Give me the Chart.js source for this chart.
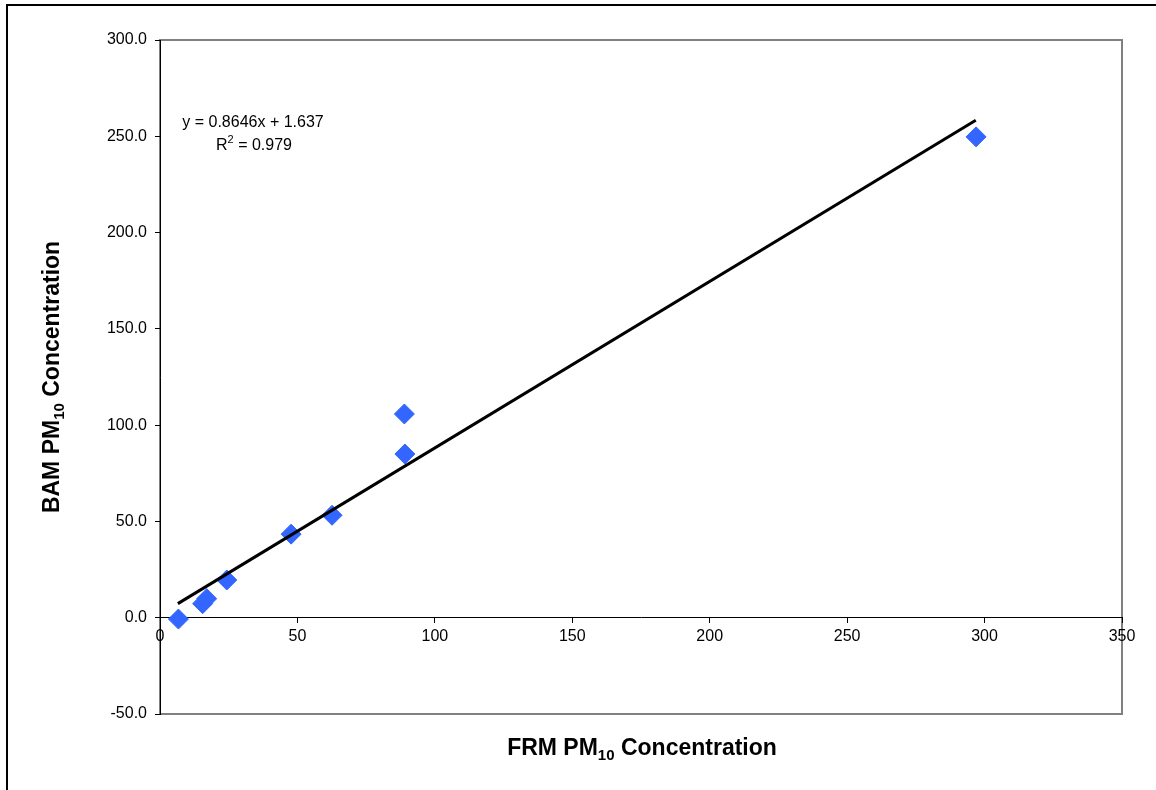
<!DOCTYPE html>
<html><head><meta charset="utf-8">
<script src="https://cdn.jsdelivr.net/npm/chart.js@4/dist/chart.umd.min.js"></script>
<style>html,body{margin:0;padding:0;background:#fff}#wrap{width:1156px;height:790px;position:relative}</style>
</head><body><div id="wrap"><canvas id="c" width="1156" height="790"></canvas></div>
<script>
// ---- data ----
const frmX = [6.7, 15.5, 17.0, 24.3, 47.7, 62.6, 88.9, 89.1, 296.9];
const bamY = [-0.7, 7.3, 9.9, 19.6, 43.4, 53.2, 105.8, 85.0, 249.7];
const trendX = [6.5, 296.8];
const trendY = [7.3, 258.3];
const xTickValues = [0, 50, 100, 150, 200, 250, 300, 350];
const yTickValues = [-50, 0, 50, 100, 150, 200, 250, 300];
const equationText = 'y = 0.8646x + 1.637';
const r2Parts = ['R', '2', ' = 0.979'];
const xTitleParts = ['FRM PM', '10', ' Concentration'];
const yTitleParts = ['BAM PM', '10', ' Concentration'];

const FONT = '"Liberation Sans", Arial, sans-serif';

function drawRich(ctx, parts, cx, baseY, size, bold, shift, spacing) {
  const w = bold ? 'bold ' : '';
  const small = Math.round(size * 0.66);
  ctx.letterSpacing = (spacing || 0) + 'px';
  ctx.font = w + size + 'px ' + FONT;
  const w0 = ctx.measureText(parts[0]).width;
  const w2 = ctx.measureText(parts[2]).width;
  ctx.font = w + small + 'px ' + FONT;
  const w1 = ctx.measureText(parts[1]).width;
  let x = cx - (w0 + w1 + w2) / 2;
  ctx.textAlign = 'left';
  ctx.textBaseline = 'alphabetic';
  ctx.font = w + size + 'px ' + FONT;
  ctx.fillText(parts[0], x, baseY); x += w0;
  ctx.font = w + small + 'px ' + FONT;
  ctx.fillText(parts[1], x, baseY + shift); x += w1;
  ctx.font = w + size + 'px ' + FONT;
  ctx.fillText(parts[2], x, baseY);
  ctx.letterSpacing = '0px';
}

const decor = {
  id: 'decor',
  beforeDraw(chart) {
    const {ctx, chartArea: a} = chart;
    ctx.save();
    ctx.strokeStyle = '#808080';
    ctx.lineWidth = 2;
    ctx.strokeRect(a.left, a.top, a.right - a.left, a.bottom - a.top);
    ctx.restore();
  },
  afterDraw(chart) {
    const {ctx, chartArea: a} = chart;
    ctx.save();
    // outer chart border
    ctx.strokeStyle = '#000';
    ctx.lineWidth = 2;
    ctx.beginPath();
    ctx.moveTo(7, 800); ctx.lineTo(7, 5); ctx.lineTo(1200, 5);
    ctx.stroke();
    ctx.fillStyle = '#000';
    // trendline label
    ctx.font = '16px ' + FONT;
    ctx.textAlign = 'center';
    ctx.textBaseline = 'alphabetic';
    ctx.fillText(equationText, 253, 127);
    drawRich(ctx, r2Parts, 254, 150, 16, false, -7, 0);
    // axis titles
    const cx = (a.left + a.right) / 2, cy = (a.top + a.bottom) / 2;
    drawRich(ctx, xTitleParts, cx + 1, 755, 23, true, 5, 0);
    ctx.translate(59, cy);
    ctx.rotate(-Math.PI / 2);
    drawRich(ctx, yTitleParts, 0, 0, 23, true, 5, 0);
    ctx.restore();
  }
};

new Chart(document.getElementById('c'), {
  type: 'scatter',
  data: {
    datasets: [
      {
        type: 'line',
        label: 'Linear trend',
        data: trendX.map((x, i) => ({x, y: trendY[i]})),
        borderColor: '#000',
        borderWidth: 3,
        pointRadius: 0,
        fill: false
      },
      {
        label: 'BAM vs FRM',
        data: frmX.map((x, i) => ({x, y: bamY[i]})),
        pointStyle: 'rectRot',
        pointRadius: 10,
        pointBorderWidth: 1,
        backgroundColor: '#3366FF',
        borderColor: '#3366FF'
      }
    ]
  },
  options: {
    responsive: false,
    animation: false,
    events: [],
    layout: {padding: {left: 0, top: 40, right: 34, bottom: 76}},
    plugins: {legend: {display: false}, tooltip: {enabled: false}, title: {display: false}},
    scales: {
      x: {
        type: 'linear',
        position: {y: 0},
        min: 0, max: 350,
        afterBuildTicks: s => { s.ticks = xTickValues.map(v => ({value: v})); },
        ticks: {color: '#000', font: {family: FONT, size: 16}, padding: 4, maxRotation: 0},
        grid: {drawOnChartArea: false, drawTicks: true, tickLength: 5, color: '#000'},
        border: {color: '#000', width: 1}
      },
      y: {
        type: 'linear',
        position: 'left',
        min: -50, max: 300,
        afterBuildTicks: s => { s.ticks = yTickValues.map(v => ({value: v})); },
        afterFit: s => { s.width = 160; },
        ticks: {color: '#000', font: {family: FONT, size: 16}, padding: 8, callback: v => v.toFixed(1)},
        grid: {drawOnChartArea: false, drawTicks: true, tickLength: 5, color: '#000'},
        border: {color: '#000', width: 1}
      }
    }
  },
  plugins: [decor]
});
</script></body></html>
